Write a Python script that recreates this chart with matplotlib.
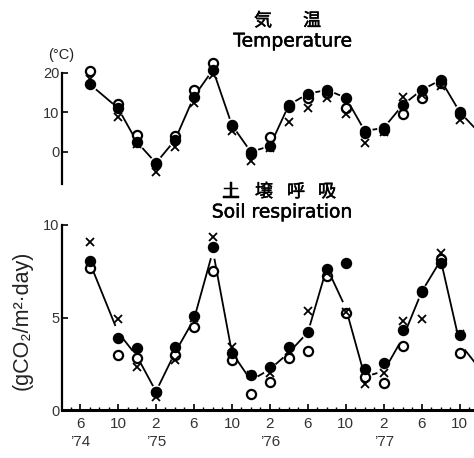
import matplotlib
matplotlib.use("Agg")
import matplotlib.pyplot as plt
import matplotlib.patheffects as pe
from matplotlib.ticker import FixedLocator, MultipleLocator

plt.rcParams['font.family'] = ['Liberation Sans', 'Noto Sans CJK JP', 'DejaVu Sans']

# months counted from Jan 1974 (Jun'74 = 6)
months = [7, 10, 12, 14, 16, 18, 20, 22, 24, 26, 28, 30, 32, 34, 36, 38, 40, 42, 44, 46]
line_months = months + [48]

temp_filled = [17.2, 11.1, 2.5, -2.8, 3.0, 14.0, 20.8, 6.8, 0.0, 1.5, 11.9, 14.7, 15.7, 13.7, 5.3, 6.1, 11.9, 15.7, 18.2, 10.1]
temp_open = [20.5, 12.1, 4.3, -3.0, 4.0, 15.7, 22.5, 6.5, -0.5, 3.8, 11.4, 13.7, 15.0, 11.1, 4.8, 5.6, 9.6, 13.7, 17.5, 9.5]
temp_cross = [18.5, 8.9, 2.0, -5.0, 1.3, 12.4, 19.5, 5.3, -2.3, 1.0, 7.6, 11.1, 13.7, 9.6, 2.3, 5.0, 13.9, 14.4, 16.7, 8.1]
temp_line = [17.2, 11.1, 2.5, -2.8, 3.0, 14.0, 20.8, 6.8, 0.0, 1.5, 11.9, 14.7, 15.7, 13.7, 5.3, 6.1, 11.9, 15.7, 18.2, 10.1, 5.0]

soil_filled = [8.05, 3.9, 3.35, 1.0, 3.4, 5.1, 8.8, 3.1, 1.9, 2.3, 3.4, 4.2, 7.6, 7.95, 2.2, 2.55, 4.3, 6.45, 7.95, 4.05]
soil_open = [7.7, 3.0, 2.8, 1.0, 3.0, 4.5, 7.5, 2.7, 0.87, 1.5, 2.8, 3.2, 7.25, 5.25, 1.8, 1.45, 3.45, 6.4, 8.15, 3.1]
soil_cross = [9.1, 4.9, 2.3, 0.7, 2.7, 5.0, 9.35, 3.4, 1.9, 2.0, 3.2, 5.35, 7.4, 5.3, 1.4, 2.0, 4.8, 4.9, 8.5, 4.1]
soil_line = [8.0, 4.2, 2.9, 1.0, 3.1, 4.9, 8.6, 3.1, 1.6, 2.2, 3.1, 4.2, 7.7, 5.5, 1.8, 2.1, 3.9, 6.4, 8.1, 3.6, 2.3]

xtick_pos = [6, 10, 14, 18, 22, 26, 30, 34, 38, 42, 46]
xtick_labels = ['6', '10', '2', '6', '10', '2', '6', '10', '2', '6', '10']
year_pos = [6, 14, 26, 38]
year_labels = ['’74', '’75', '’76', '’77']

temp_ticks = [0, 10, 20]
soil_ticks = [0, 5, 10]

temp_title_jp = ['気', '温']
soil_title_jp = ['土', '壌', '呼', '吸']

W, H = 474, 458
fig = plt.figure(figsize=(W / 100, H / 100), dpi=100)

left = 62 / W
xlim = (4.1, 47.5)

ax_t = fig.add_axes([left, (H - 183.6) / H, 1 - left, (183.6 - 61) / H])
ax_s = fig.add_axes([left, (H - 410) / H, 1 - left, 185 / H])


def draw(ax, xs, line, filled, opened, cross):
    ax.plot(line_months, line, color='black', lw=1.3, zorder=2, solid_capstyle='butt')
    ax.plot(line_months, line, ls='none', marker='o', ms=9.5, mfc='white', mec='white', zorder=3)
    ax.plot(xs, opened, ls='none', marker='o', ms=6.6, mfc='white', mec='black', mew=1.6, zorder=4, clip_on=False)
    ax.plot(xs, filled, ls='none', marker='o', ms=7.2, mfc='black', mec='black', zorder=5, clip_on=False)
    ax.plot(xs, cross, ls='none', marker='x', ms=5.5, mec='black', mew=1.3, zorder=6, clip_on=False)


draw(ax_t, months, temp_line, temp_filled, temp_open, temp_cross)
draw(ax_s, months, soil_line, soil_filled, soil_open, soil_cross)

# temperature axes
ax_t.set_xlim(*xlim)
ax_t.set_ylim(-8, 23)
for s in ['top', 'right', 'bottom']:
    ax_t.spines[s].set_visible(False)
ax_t.spines['left'].set_bounds(-8, 20)
ax_t.spines['left'].set_linewidth(1.6)
ax_t.set_xticks([])
ax_t.yaxis.set_major_locator(FixedLocator(temp_ticks))
ax_t.tick_params(axis='y', direction='in', length=4, width=1.2, labelsize=10.5,
                 labelcolor='#333333', pad=2)
ax_t.text(61 / W, 1 - 55 / H, '(°C)', transform=fig.transFigure, ha='center', va='center',
          fontsize=10.5, color='#222222')

# soil axes
ax_s.set_xlim(*xlim)
ax_s.set_ylim(0, 10)
for s in ['top', 'right']:
    ax_s.spines[s].set_visible(False)
ax_s.spines['left'].set_linewidth(1.6)
ax_s.spines['bottom'].set_linewidth(2.2)
ax_s.yaxis.set_major_locator(FixedLocator(soil_ticks))
ax_s.xaxis.set_major_locator(FixedLocator(xtick_pos))
ax_s.set_xticklabels(xtick_labels)
ax_s.xaxis.set_minor_locator(MultipleLocator(1))
ax_s.tick_params(axis='y', direction='in', length=4, width=1.2, labelsize=10.5,
                 labelcolor='#333333', pad=2)
ax_s.tick_params(axis='x', which='major', direction='in', length=4, width=1.2,
                 labelsize=11, labelcolor='#333333', pad=5)
ax_s.tick_params(axis='x', which='minor', direction='in', length=2.5, width=1.0)
for xp, yl in zip(year_pos, year_labels):
    ax_s.text(xp, -0.175, yl, transform=ax_s.get_xaxis_transform(), ha='center', va='center',
              fontsize=11, color='#333333')

ax_s.text(22 / W, 1 - 320 / H, '(gCO₂/m²·day)', transform=fig.transFigure, rotation=90,
          ha='center', va='center', fontsize=15.5, color='#222222')

# titles
thick = [pe.withStroke(linewidth=0.35, foreground='black')]
for ch, xp in zip(temp_title_jp, [263, 312]):
    fig.text(xp / W, 1 - 21 / H, ch, ha='center', va='center', fontsize=13,
             family=['Noto Sans CJK JP'], path_effects=thick)
fig.text(293 / W, 1 - 41 / H, 'Temperature', ha='center', va='center', fontsize=13.5,
         family=['DejaVu Sans'], path_effects=thick)
for ch, xp in zip(soil_title_jp, [231, 264, 296, 327]):
    fig.text(xp / W, 1 - 192 / H, ch, ha='center', va='center', fontsize=13,
             family=['Noto Sans CJK JP'], path_effects=thick)
fig.text(282 / W, 1 - 212 / H, 'Soil respiration', ha='center', va='center', fontsize=13.5,
         family=['DejaVu Sans'], path_effects=thick)

fig.savefig('out.png', dpi=100)
